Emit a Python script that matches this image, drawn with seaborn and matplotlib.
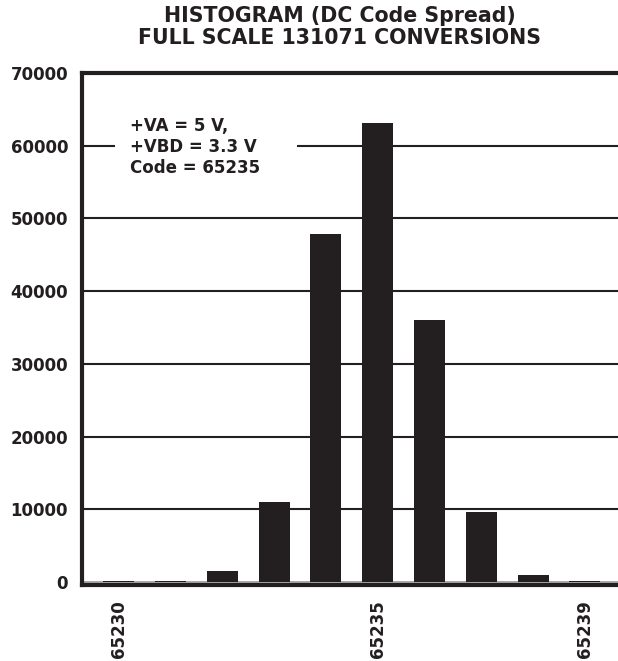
import matplotlib
matplotlib.use("Agg")
import matplotlib.pyplot as plt
import seaborn as sns
from matplotlib.patches import Rectangle

# histogram data
codes = ["65230", "65231", "65232", "65233", "65234", "65235", "65236", "65237", "65238", "65239"]
counts = [150, 150, 1500, 11000, 47900, 63100, 36000, 9600, 1000, 150]
shown_ticks = ["65230", "65235", "65239"]
y_ticks = [0, 10000, 20000, 30000, 40000, 50000, 60000, 70000]
title_lines = ["HISTOGRAM (DC Code Spread)", "FULL SCALE 131071 CONVERSIONS"]
note_lines = ["+VA = 5 V,", "+VBD = 3.3 V", "Code = 65235"]

sns.set_style("white")
plt.rcParams['font.family'] = ['DejaVu Sans']
plt.rcParams['font.weight'] = 'bold'
ink = "#231f20"

fig = plt.figure(figsize=(6.18, 6.61), dpi=100)
ax = fig.add_axes([0.1327, 0.115, 0.8673, 0.7746])

sns.barplot(x=codes, y=counts, order=codes, color=ink, saturation=1,
            width=0.6, edgecolor=ink, linewidth=0, ax=ax, zorder=3)

ax.set_xlim(-0.71, 9.64)
ax.set_ylim(-400, 70000)
ax.set_yticks(y_ticks)
ax.set_yticklabels([str(v) for v in y_ticks])
ax.set_xticks([codes.index(c) for c in shown_ticks])
ax.set_xticklabels(shown_ticks, rotation=90)
ax.set_xlabel("")
ax.set_ylabel("")

# horizontal grid, zero line lighter
ax.set_axisbelow(True)
ax.grid(axis='y', color=ink, linewidth=1.5)
ax.yaxis.get_gridlines()[0].set_color("#9a9a9a")
ax.yaxis.get_gridlines()[0].set_linewidth(1.2)

for side in ["top", "left", "bottom"]:
    ax.spines[side].set_visible(True)
    ax.spines[side].set_color(ink)
    ax.spines[side].set_linewidth(3)
ax.spines["right"].set_visible(False)

ax.tick_params(axis='y', length=0, labelsize=12, pad=10, labelcolor=ink)
ax.tick_params(axis='x', length=0, labelsize=12, pad=11, labelcolor=ink)

# white box behind the note so the grid line breaks around it
ax.add_patch(Rectangle((0.0616, 0.791), 0.339, 0.141, transform=ax.transAxes,
                       facecolor="white", edgecolor="none", zorder=1))
for i, line in enumerate(note_lines):
    ax.text(0.0896, (585 - (131 + 21 * i)) / 512, line, transform=ax.transAxes,
            ha='left', va='baseline', fontsize=12, fontweight='bold',
            color=ink, zorder=4)

fig.text(340 / 618, 1 - 16.5 / 661, title_lines[0], ha='center', va='center',
         fontsize=14.8, fontweight='bold', color=ink)
fig.text(340 / 618, 1 - 38.5 / 661, title_lines[1], ha='center', va='center',
         fontsize=14.8, fontweight='bold', color=ink)

fig.savefig("out.png", dpi=100)
